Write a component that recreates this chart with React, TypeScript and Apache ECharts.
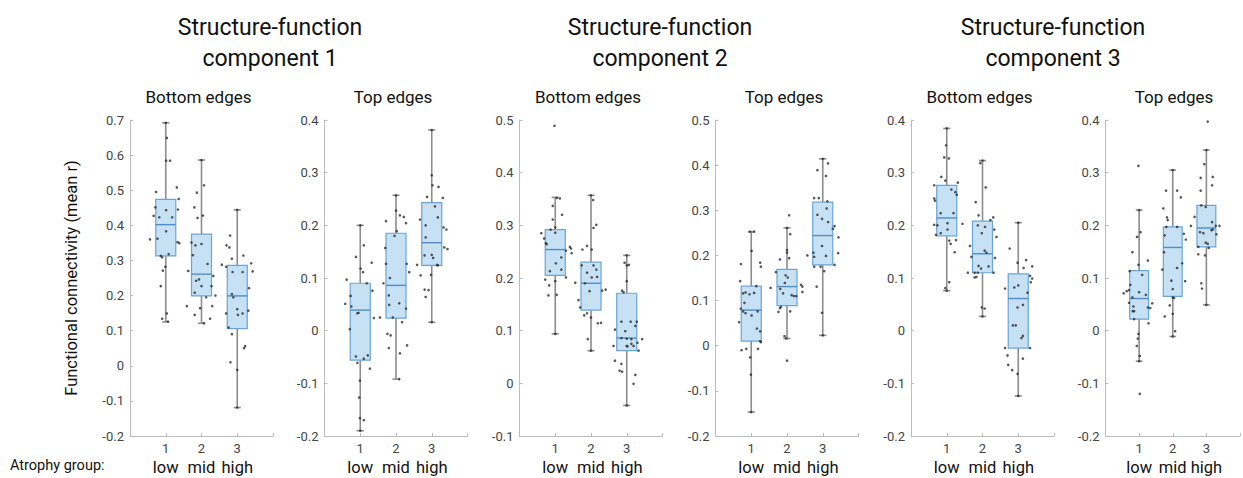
import React, { useEffect, useRef } from 'react';
import * as echarts from 'echarts';

// ---------- data ----------
const groupWords = ['low', 'mid', 'high'];
const componentTitles = ['Structure-function\ncomponent 1', 'Structure-function\ncomponent 2', 'Structure-function\ncomponent 3'];
const panelTitles = ['Bottom edges', 'Top edges', 'Bottom edges', 'Top edges', 'Bottom edges', 'Top edges'];
const yMins = [-0.2, -0.2, -0.1, -0.2, -0.2, -0.2];
const yMaxs = [0.7, 0.4, 0.5, 0.5, 0.4, 0.4];
const yAxisLabel = 'Functional connectivity (mean r)';
const xGroupLabel = 'Atrophy group:';

// box stats per group: [lowerWhisker, Q1, median, Q3, upperWhisker]
const c1BottomBox = [[0.125, 0.313, 0.402, 0.474, 0.692], [0.121, 0.199, 0.261, 0.375, 0.586], [-0.119, 0.106, 0.199, 0.286, 0.444]];
const c1TopBox = [[-0.19, -0.056, 0.039, 0.09, 0.2], [-0.092, 0.024, 0.086, 0.185, 0.257], [0.016, 0.124, 0.167, 0.243, 0.381]];
const c2BottomBox = [[0.094, 0.205, 0.254, 0.292, 0.353], [0.062, 0.139, 0.19, 0.23, 0.357], [-0.042, 0.062, 0.086, 0.171, 0.243]];
const c2TopBox = [[-0.147, 0.01, 0.079, 0.132, 0.252], [0.016, 0.089, 0.131, 0.169, 0.261], [0.023, 0.179, 0.244, 0.318, 0.414]];
const c3BottomBox = [[0.076, 0.18, 0.214, 0.276, 0.384], [0.027, 0.11, 0.146, 0.208, 0.323], [-0.124, -0.033, 0.061, 0.108, 0.205]];
const c3TopBox = [[-0.058, 0.022, 0.061, 0.114, 0.229], [-0.011, 0.065, 0.158, 0.197, 0.305], [0.049, 0.159, 0.195, 0.238, 0.343]];

// individual subjects per group: [horizontal jitter, value]
const c1BottomPts = [
  [[0.03, 0.649], [0.01, 0.584], [0.12, 0.584], [0.31, 0.508], [-0.27, 0.495], [-0.29, 0.451], [0.36, 0.475], [-0.34, 0.427], [-0.18, 0.423], [0.01, 0.443], [0.18, 0.423], [0.34, 0.445], [0.01, 0.383], [-0.23, 0.362], [-0.44, 0.36], [0.33, 0.352], [0.38, 0.349], [-0.14, 0.313], [-0.1, 0.309], [0.08, 0.318], [-0.01, 0.282], [-0.08, 0.271], [-0.14, 0.227], [0.03, 0.149], [-0.1, 0.134], [0.06, 0.126], [0, 0.692]],
  [[0.07, 0.514], [-0.13, 0.493], [0.04, 0.428], [-0.2, 0.451], [-0.11, 0.421], [-0.28, 0.351], [-0.17, 0.343], [0, 0.347], [0.17, 0.29], [-0.24, 0.315], [-0.37, 0.27], [0.33, 0.256], [-0.15, 0.242], [-0.07, 0.246], [0, 0.227], [0.28, 0.227], [-0.19, 0.208], [0.13, 0.195], [0.39, 0.2], [-0.41, 0.17], [-0.04, 0.164], [0.3, 0.17], [-0.19, 0.145], [0.24, 0.134], [0.07, 0.121], [0, 0.586]],
  [[-0.2, 0.371], [-0.3, 0.343], [-0.22, 0.337], [-0.15, 0.305], [0.17, 0.314], [-0.43, 0.288], [-0.31, 0.282], [-0.13, 0.267], [0.15, 0.267], [0.39, 0.292], [0.43, 0.269], [0.33, 0.221], [-0.15, 0.204], [-0.11, 0.195], [0, 0.161], [0.02, 0.145], [0.15, 0.149], [0.31, 0.157], [-0.31, 0.149], [-0.24, 0.109], [-0.15, 0.09], [0.19, 0.05], [0.22, 0.056], [-0.19, 0.01], [0, -0.012], [0, -0.119], [0, 0.444]],
];
const c1TopPts = [
  [[0.1, 0.162], [-0.12, 0.14], [0.01, 0.118], [0.08, 0.111], [0.32, 0.129], [-0.38, 0.097], [0.18, 0.09], [0.34, 0.076], [-0.27, 0.066], [-0.25, 0.046], [-0.42, 0.051], [-0.08, 0.033], [-0.05, 0.034], [-0.29, 0.003], [0.38, 0.024], [0.55, 0.025], [-0.12, -0.049], [0.1, -0.053], [0.21, -0.047], [-0.08, -0.061], [0.27, -0.072], [-0.01, -0.095], [-0.03, -0.127], [-0.01, -0.166], [0.1, -0.17], [0, -0.19], [0, 0.2]],
  [[0, 0.228], [0.11, 0.219], [0.22, 0.216], [0.28, 0.204], [-0.28, 0.208], [-0.04, 0.18], [0.02, 0.189], [-0.3, 0.157], [-0.28, 0.127], [0.3, 0.127], [0.37, 0.111], [-0.35, 0.09], [-0.17, 0.1], [-0.2, 0.067], [-0.19, 0.049], [0.09, 0.052], [-0.09, 0.025], [0.28, 0.042], [0.17, 0.016], [-0.24, -0.006], [-0.15, -0.009], [-0.2, -0.033], [0.11, -0.043], [0.31, -0.028], [0.09, -0.092], [0, 0.257]],
  [[0, 0.295], [0.02, 0.276], [0.19, 0.273], [0.31, 0.252], [-0.13, 0.254], [0.09, 0.236], [-0.33, 0.211], [0.17, 0.215], [-0.17, 0.2], [0.33, 0.196], [0.41, 0.192], [-0.17, 0.177], [0.35, 0.158], [0.44, 0.155], [-0.2, 0.143], [0, 0.144], [0.04, 0.138], [0.15, 0.125], [0.17, 0.124], [-0.41, 0.125], [-0.31, 0.105], [-0.02, 0.106], [-0.2, 0.078], [-0.09, 0.077], [-0.17, 0.064], [0, 0.381], [0, 0.016]],
];
const c2BottomPts = [
  [[-0.02, 0.489], [0.04, 0.352], [0.13, 0.351], [-0.07, 0.337], [-0.07, 0.311], [0.19, 0.32], [0, 0.296], [-0.13, 0.292], [0, 0.286], [-0.39, 0.285], [-0.31, 0.275], [-0.26, 0.266], [-0.24, 0.264], [0.41, 0.259], [0.44, 0.256], [0.3, 0.252], [0.46, 0.247], [0.17, 0.239], [0.02, 0.228], [0.17, 0.216], [-0.15, 0.213], [-0.28, 0.197], [0, 0.194], [0.3, 0.201], [-0.17, 0.186], [-0.19, 0.167], [0.04, 0.168], [0, 0.094]],
  [[0.06, 0.348], [0.15, 0.301], [0.07, 0.295], [-0.11, 0.261], [-0.24, 0.254], [0.02, 0.254], [-0.26, 0.224], [0.07, 0.224], [0.15, 0.216], [-0.11, 0.21], [0.02, 0.201], [0.17, 0.202], [-0.44, 0.191], [-0.17, 0.19], [-0.04, 0.175], [0.31, 0.176], [0.41, 0.178], [-0.35, 0.158], [-0.3, 0.144], [-0.19, 0.129], [-0.11, 0.133], [0, 0.125], [0.19, 0.114], [0.28, 0.115], [-0.09, 0.084], [0, 0.357], [0, 0.062]],
  [[-0.06, 0.229], [0, 0.224], [0.06, 0.225], [0, 0.194], [-0.13, 0.176], [-0.09, 0.173], [-0.15, 0.117], [0.11, 0.117], [0.28, 0.117], [-0.04, 0.099], [0.24, 0.109], [-0.33, 0.102], [-0.15, 0.086], [0, 0.085], [0.13, 0.084], [0.3, 0.077], [0.43, 0.084], [-0.37, 0.071], [0, 0.071], [0.02, 0.07], [0.13, 0.075], [0.19, 0.071], [0.33, 0.062], [-0.33, 0.043], [-0.15, 0.037], [-0.2, 0.024], [-0.13, 0.022], [0.24, 0.016], [0.19, -0.001], [0, -0.042], [0, 0.243]],
];
const c2TopPts = [
  [[-0.03, 0.253], [0.08, 0.253], [0.01, 0.21], [-0.29, 0.181], [0.25, 0.184], [0.27, 0.175], [-0.31, 0.143], [-0.23, 0.116], [-0.16, 0.118], [-0.05, 0.114], [0.08, 0.117], [0.14, 0.132], [-0.19, 0.095], [-0.34, 0.052], [-0.29, 0.082], [-0.23, 0.076], [-0.16, 0.072], [0.01, 0.067], [0.18, 0.076], [0.16, 0.038], [0.25, 0.032], [0.25, 0.01], [0.27, 0.008], [-0.27, -0.01], [-0.14, -0.007], [0.19, -0.007], [-0.03, -0.026], [-0.01, -0.064], [0, -0.147]],
  [[0.06, 0.289], [0.09, 0.247], [0, 0.212], [0, 0.206], [0.06, 0.194], [-0.2, 0.191], [-0.31, 0.163], [-0.04, 0.156], [0.02, 0.151], [-0.06, 0.139], [-0.46, 0.128], [0.39, 0.135], [0.43, 0.131], [0.43, 0.119], [-0.19, 0.126], [-0.11, 0.116], [0.13, 0.112], [0.19, 0.11], [0.26, 0.11], [-0.17, 0.086], [-0.2, 0.083], [-0.24, 0.075], [0.09, 0.076], [-0.07, 0.021], [-0.02, 0.016], [0, -0.033], [0, 0.261]],
  [[0.15, 0.404], [-0.15, 0.389], [0.09, 0.376], [-0.24, 0.327], [-0.11, 0.327], [0.13, 0.32], [0.11, 0.304], [-0.15, 0.29], [-0.02, 0.281], [0.15, 0.274], [0.33, 0.265], [0.28, 0.259], [0.44, 0.24], [-0.02, 0.221], [0.09, 0.199], [-0.43, 0.2], [-0.26, 0.206], [-0.24, 0.197], [0.43, 0.205], [-0.24, 0.175], [-0.06, 0.175], [0.04, 0.165], [0.33, 0.179], [-0.17, 0.131], [-0.02, 0.073], [0, 0.414], [0, 0.023]],
];
const c3BottomPts = [
  [[-0.02, 0.352], [-0.07, 0.329], [0.06, 0.327], [-0.15, 0.292], [0.13, 0.268], [0.31, 0.281], [0.28, 0.258], [-0.04, 0.285], [0.24, 0.263], [-0.35, 0.276], [-0.35, 0.251], [-0.33, 0.247], [-0.17, 0.223], [0.19, 0.223], [0.44, 0.203], [-0.35, 0.201], [-0.26, 0.2], [0.02, 0.204], [0.02, 0.192], [-0.3, 0.182], [-0.17, 0.185], [0.07, 0.171], [0.11, 0.165], [0.26, 0.172], [0.22, 0.149], [0.07, 0.092], [-0.04, 0.081], [0, 0.384], [0, 0.076]],
  [[-0.06, 0.318], [0.09, 0.272], [-0.19, 0.244], [-0.11, 0.219], [0.3, 0.215], [-0.13, 0.2], [-0.02, 0.185], [0.07, 0.197], [0.33, 0.192], [0.22, 0.21], [-0.35, 0.161], [0.39, 0.178], [-0.31, 0.14], [0.06, 0.152], [0.11, 0.148], [0.35, 0.138], [-0.11, 0.123], [-0.04, 0.118], [0.17, 0.122], [-0.41, 0.11], [-0.22, 0.11], [-0.13, 0.11], [0.31, 0.11], [-0.22, 0.101], [-0.17, 0.102], [-0.02, 0.044], [0.06, 0.042], [0, 0.323], [0, 0.027]],
  [[-0.24, 0.156], [0.22, 0.134], [0.39, 0.122], [-0.02, 0.129], [0.15, 0.119], [0.33, 0.104], [0.39, 0.099], [0.35, 0.092], [-0.37, 0.08], [-0.11, 0.082], [0, 0.086], [0.26, 0.072], [0.13, 0.049], [-0.02, 0.044], [-0.15, 0.01], [-0.07, 0.01], [0.13, -0.01], [0.09, -0.014], [-0.37, -0.033], [0.33, -0.033], [-0.3, -0.047], [0.13, -0.053], [-0.28, -0.065], [-0.17, -0.075], [-0.02, -0.082], [0, 0.205], [0, -0.124]],
];
const c3TopPts = [
  [[-0.02, 0.313], [0.04, 0.187], [-0.06, 0.178], [-0.2, 0.149], [0.26, 0.133], [-0.28, 0.113], [0.09, 0.106], [-0.02, 0.125], [-0.26, 0.087], [-0.3, 0.077], [0, 0.073], [0.2, 0.068], [-0.46, 0.071], [-0.37, 0.075], [-0.2, 0.063], [-0.17, 0.046], [-0.3, 0.053], [-0.15, 0.037], [-0.19, 0.037], [0.26, 0.044], [0.33, 0.043], [0.39, 0.052], [-0.15, 0.022], [0.28, 0.014], [-0.02, -0.006], [-0.04, -0.015], [-0.07, -0.029], [0.02, -0.048], [0.02, -0.12], [0, 0.229], [0, -0.058]],
  [[-0.2, 0.266], [0.13, 0.266], [0.24, 0.253], [-0.28, 0.232], [-0.17, 0.215], [-0.15, 0.21], [-0.19, 0.197], [0.13, 0.197], [-0.24, 0.181], [0.33, 0.184], [0.39, 0.173], [-0.26, 0.149], [0.28, 0.128], [0.13, 0.119], [-0.31, 0.116], [-0.04, 0.095], [0.37, 0.094], [0, 0.079], [0, 0.063], [0.04, 0.062], [-0.24, 0.027], [0, 0.032], [-0.09, 0.048], [0.07, -0.001], [0, 0.305], [0, -0.011]],
  [[0.04, 0.397], [-0.06, 0.316], [-0.17, 0.29], [0.19, 0.292], [-0.17, 0.266], [0.17, 0.276], [-0.15, 0.238], [-0.02, 0.235], [0.17, 0.206], [-0.19, 0.187], [-0.09, 0.185], [0.15, 0.191], [0.19, 0.192], [0.28, 0.199], [0.39, 0.199], [0.3, 0.183], [-0.02, 0.167], [0.04, 0.165], [-0.24, 0.159], [0.07, 0.157], [-0.24, 0.145], [-0.04, 0.143], [-0.15, 0.09], [-0.13, 0.08], [-0.46, 0.199], [-0.35, 0.216], [0, 0.343], [0, 0.049]],
];

const panelBoxes = [c1BottomBox, c1TopBox, c2BottomBox, c2TopBox, c3BottomBox, c3TopBox];
const panelPoints = [c1BottomPts, c1TopPts, c2BottomPts, c2TopPts, c3BottomPts, c3TopPts];

// ---------- layout / style ----------
const gridLefts = [130, 324.5, 519.5, 715.5, 911, 1105.5];
const gridWidth = 143;
const gridTop = 120;
const gridHeight = 316;
const titleCenters = [270, 660, 1053];
const FONT = 'Roboto, "Noto Sans", Arial, sans-serif';
const BOX_FILL = 'rgba(160, 203, 236, 0.6)';
const BOX_EDGE = '#6aa5d6';
const WHISKER = '#8c8c8c';
const AXIS = '#bcbcbc';

function renderBox(params: any, api: any) {
  const x = api.value(0);
  const lo = api.value(1), q1 = api.value(2), med = api.value(3), q3 = api.value(4), hi = api.value(5);
  const half = 0.28, cap = 0.1;
  const tl = api.coord([x - half, q3]);
  const br = api.coord([x + half, q1]);
  const mL = api.coord([x - half, med]);
  const mR = api.coord([x + half, med]);
  const cTop = api.coord([x, hi]);
  const cQ3 = api.coord([x, q3]);
  const cQ1 = api.coord([x, q1]);
  const cBot = api.coord([x, lo]);
  const capL = api.coord([x - cap, hi])[0];
  const capR = api.coord([x + cap, hi])[0];
  const wStyle = { stroke: WHISKER, lineWidth: 1.6 };
  return {
    type: 'group',
    children: [
      { type: 'line', shape: { x1: cTop[0], y1: cTop[1], x2: cQ3[0], y2: cQ3[1] }, style: wStyle },
      { type: 'line', shape: { x1: cBot[0], y1: cBot[1], x2: cQ1[0], y2: cQ1[1] }, style: wStyle },
      { type: 'line', shape: { x1: capL, y1: cTop[1], x2: capR, y2: cTop[1] }, style: wStyle },
      { type: 'line', shape: { x1: capL, y1: cBot[1], x2: capR, y2: cBot[1] }, style: wStyle },
      { type: 'rect', shape: { x: tl[0], y: tl[1], width: br[0] - tl[0], height: br[1] - tl[1] }, style: { fill: BOX_FILL, stroke: BOX_EDGE, lineWidth: 1.2 } },
      { type: 'line', shape: { x1: mL[0], y1: mL[1], x2: mR[0], y2: mR[1] }, style: { stroke: '#4f8fc6', lineWidth: 1.4 } },
    ],
  };
}

function buildOption() {
  const grid: any[] = [];
  const xAxis: any[] = [];
  const yAxis: any[] = [];
  const series: any[] = [];
  const graphic: any[] = [];

  for (let p = 0; p < 6; p++) {
    grid.push({ left: gridLefts[p], top: gridTop, width: gridWidth, height: gridHeight });
    xAxis.push({
      type: 'value', gridIndex: p, min: 0, max: 4, interval: 1,
      splitLine: { show: false },
      axisLine: { show: true, onZero: false, lineStyle: { color: AXIS, width: 1 } },
      axisTick: { show: true, inside: true, length: 3, lineStyle: { color: AXIS } },
      axisLabel: {
        margin: 4,
        formatter: (v: number) => (v >= 1 && v <= 3 ? `{n|${v}}\n{w|${groupWords[v - 1]}}` : ''),
        rich: {
          n: { fontSize: 13, color: '#444', fontFamily: FONT, lineHeight: 17 },
          w: { fontSize: 16.5, color: '#111', fontFamily: FONT, lineHeight: 21 },
        },
      },
    });
    yAxis.push({
      type: 'value', gridIndex: p, min: yMins[p], max: yMaxs[p], interval: 0.1,
      splitLine: { show: false },
      axisLine: { show: true, onZero: false, lineStyle: { color: AXIS, width: 1 } },
      axisTick: { show: true, inside: true, length: 3, lineStyle: { color: AXIS } },
      axisLabel: { fontSize: 13, color: '#444', fontFamily: FONT, margin: 6, formatter: (v: number) => String(Math.round(v * 10) / 10) },
      ...(p === 0
        ? { name: yAxisLabel, nameLocation: 'middle', nameGap: 50, nameRotate: 90, nameTextStyle: { fontSize: 16.5, color: '#111', fontFamily: FONT } }
        : {}),
    });
    series.push({
      type: 'custom', xAxisIndex: p, yAxisIndex: p, z: 2,
      renderItem: renderBox,
      encode: { x: 0, y: [1, 2, 3, 4, 5] },
      data: panelBoxes[p].map((b, g) => [g + 1, ...b]),
      silent: true,
    });
    const pts: number[][] = [];
    panelPoints[p].forEach((arr, g) => arr.forEach(([dx, v]) => pts.push([g + 1 + dx, v])));
    series.push({
      type: 'scatter', xAxisIndex: p, yAxisIndex: p, z: 5,
      symbolSize: 2.6, itemStyle: { color: '#2a2a2a', opacity: 0.8 },
      data: pts, silent: true,
    });
    graphic.push({
      type: 'text', x: gridLefts[p] + gridWidth / 2 - 3, y: 97,
      style: { text: panelTitles[p], fontSize: 17, fill: '#111', fontFamily: FONT, align: 'center', verticalAlign: 'middle' },
    });
  }

  componentTitles.forEach((t, i) => {
    graphic.push({
      type: 'text', x: titleCenters[i], y: 12,
      style: { text: t, fontSize: 23, fill: '#111', fontFamily: FONT, align: 'center', verticalAlign: 'top', lineHeight: 31 },
    });
  });
  graphic.push({
    type: 'text', x: 10, y: 458,
    style: { text: xGroupLabel, fontSize: 14.5, fill: '#111', fontFamily: FONT, verticalAlign: 'top' },
  });

  return { animation: false, backgroundColor: '#fff', grid, xAxis, yAxis, series, graphic };
}

export default function App() {
  const ref = useRef<HTMLDivElement>(null);
  useEffect(() => {
    if (!ref.current) return;
    const chart = echarts.init(ref.current, undefined, { renderer: 'svg' });
    chart.setOption(buildOption() as any);
    return () => chart.dispose();
  }, []);
  return <div ref={ref} style={{ position: 'fixed', left: 0, top: 0, width: 1243, height: 478 }} />;
}
